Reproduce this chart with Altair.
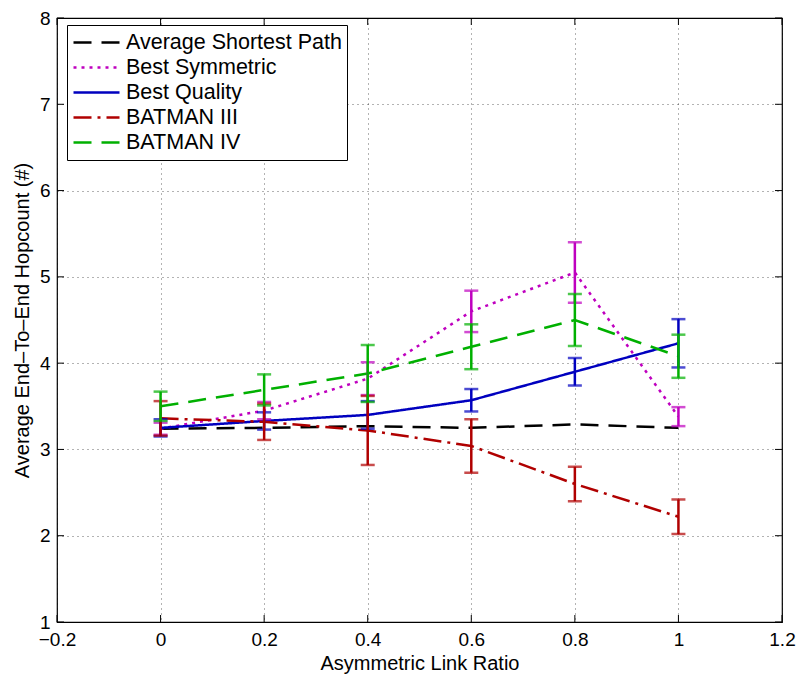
import altair as alt
import pandas as pd

# ---- data ----
x_vals = [0.0, 0.2, 0.4, 0.6, 0.8, 1.0]
series_names = ["Average Shortest Path", "Best Symmetric", "Best Quality", "BATMAN III", "BATMAN IV"]
shortest = [3.24, 3.25, 3.27, 3.25, 3.29, 3.25]
symmetric = [3.24, 3.45, 3.82, 4.60, 5.05, 3.38]
symmetric_err = [0.07, 0.10, 0.19, 0.24, 0.35, 0.11]
quality = [3.25, 3.33, 3.40, 3.57, 3.90, 4.23]
quality_err = [0.10, 0.10, 0.16, 0.13, 0.16, 0.28]
batman3 = [3.36, 3.32, 3.22, 3.04, 2.60, 2.22]
batman3_err = [0.20, 0.21, 0.40, 0.31, 0.20, 0.20]
batman4 = [3.50, 3.69, 3.88, 4.19, 4.50, 4.08]
batman4_err = [0.17, 0.18, 0.33, 0.26, 0.30, 0.25]
x_ticks = [-0.2, 0.0, 0.2, 0.4, 0.6, 0.8, 1.0, 1.2]
y_ticks = [1, 2, 3, 4, 5, 6, 7, 8]

colors = ["#000000", "#BF00BF", "#0000BF", "#B00000", "#00B000"]
dashes = [[18, 10], [3, 5], [1, 0], [18, 6, 3, 6], [18, 10]]

values = [shortest, symmetric, quality, batman3, batman4]
errors = [None, symmetric_err, quality_err, batman3_err, batman4_err]

rows = []
for name, vals in zip(series_names, values):
    for xv, yv in zip(x_vals, vals):
        rows.append({"series": name, "x": xv, "y": yv})
df = pd.DataFrame(rows)
xt = pd.DataFrame({"t": x_ticks})
yt = pd.DataFrame({"t": y_ticks})

W, H = 725, 604
FONT = "Liberation Sans"

xscale = alt.Scale(domain=[-0.2, 1.2], nice=False, zero=False)
yscale = alt.Scale(domain=[1, 8], nice=False, zero=False)
cscale = alt.Scale(domain=series_names, range=colors)
dscale = alt.Scale(domain=series_names, range=dashes)

xaxis = alt.Axis(values=x_ticks, title="Asymmetric Link Ratio", ticks=False, grid=True,
                 labelExpr="replace(format(datum.value, '.1~f'), '-', '\u2212')",
                 labelPadding=8, titlePadding=4, labelFontSize=19, titleFontSize=20,
                 labelFlush=False)
yaxis = alt.Axis(values=y_ticks, title="Average End\u2013To\u2013End Hopcount (#)", ticks=False, grid=True,
                 format="d", labelPadding=7, titlePadding=7, labelFontSize=19, titleFontSize=20,
                 labelFlush=False)

layers = []
tk = 7
layers.append(alt.Chart(xt).mark_rule(color="black", strokeWidth=1).encode(
    x=alt.X("t:Q", scale=xscale, axis=xaxis), y=alt.value(H), y2=alt.value(H - tk)))
layers.append(alt.Chart(xt).mark_rule(color="black", strokeWidth=1).encode(
    x=alt.X("t:Q", scale=xscale), y=alt.value(0), y2=alt.value(tk)))
layers.append(alt.Chart(yt).mark_rule(color="black", strokeWidth=1).encode(
    y=alt.Y("t:Q", scale=yscale, axis=yaxis), x=alt.value(0), x2=alt.value(tk)))
layers.append(alt.Chart(yt).mark_rule(color="black", strokeWidth=1).encode(
    y=alt.Y("t:Q", scale=yscale), x=alt.value(W), x2=alt.value(W - tk)))

layers.append(alt.Chart(df).mark_line(strokeWidth=2.5).encode(
    x=alt.X("x:Q", scale=xscale),
    y=alt.Y("y:Q", scale=yscale),
    color=alt.Color("series:N", scale=cscale, title=None),
    strokeDash=alt.StrokeDash("series:N", scale=dscale, title=None),
))

for name, vals, errs, col in zip(series_names, values, errors, colors):
    if errs is None:
        continue
    e = pd.DataFrame({"x": x_vals,
                      "lo": [v - d for v, d in zip(vals, errs)],
                      "hi": [v + d for v, d in zip(vals, errs)]})
    layers.append(alt.Chart(e).mark_rule(strokeWidth=2.5, color=col).encode(
        x=alt.X("x:Q", scale=xscale), y=alt.Y("lo:Q", scale=yscale), y2="hi:Q"))
    layers.append(alt.Chart(e).mark_tick(orient="horizontal", size=14, thickness=2.5, color=col).encode(
        x=alt.X("x:Q", scale=xscale), y=alt.Y("lo:Q", scale=yscale)))
    layers.append(alt.Chart(e).mark_tick(orient="horizontal", size=14, thickness=2.5, color=col).encode(
        x=alt.X("x:Q", scale=xscale), y=alt.Y("hi:Q", scale=yscale)))

chart = alt.layer(*layers).properties(
    width=W, height=H,
    autosize=alt.AutoSizeParams(type="none"),
    padding={"left": 57, "top": 18, "right": 15, "bottom": 55},
    background="white",
).configure_view(
    stroke="black", strokeWidth=1.2
).configure_axis(
    labelFont=FONT, titleFont=FONT, labelColor="black", titleColor="black",
    titleFontWeight="normal", domain=False,
    gridColor="#000000", gridOpacity=0.6, gridDash=[1, 4], gridWidth=1,
).configure_legend(
    orient="none", legendX=10, legendY=7,
    strokeColor="black", fillColor="white", padding=5,
    labelFont=FONT, labelFontSize=21.5, labelColor="black", labelLimit=0,
    symbolType="stroke", symbolSize=2116, symbolStrokeWidth=2.5,
    clipHeight=25, rowPadding=0, labelOffset=5, cornerRadius=0,
)

chart.save("out.html", embed_options={"renderer": "svg", "actions": False})
